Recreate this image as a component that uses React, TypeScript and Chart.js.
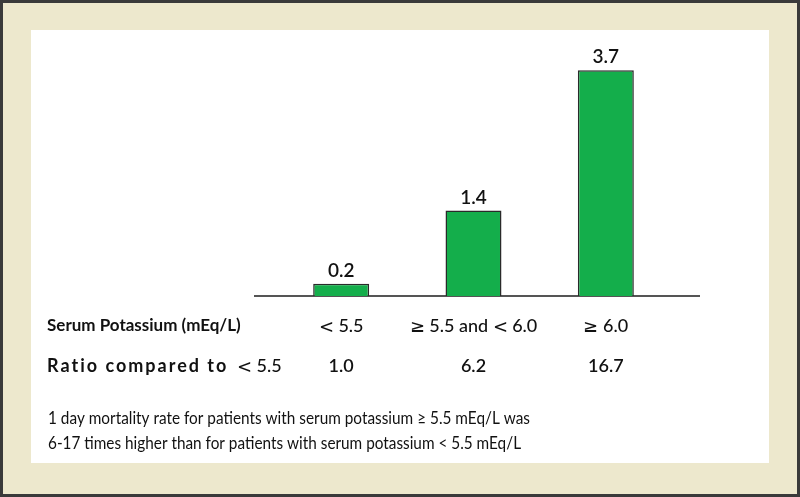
import { useEffect, useRef } from "react";
import { Chart, registerables } from "chart.js";

Chart.register(...registerables);

const categories = ["< 5.5", "≥ 5.5 and < 6.0", "≥ 6.0"];
const mortality = [0.2, 1.4, 3.7];
const ratios = ["1.0", "6.2", "16.7"];
const rowLabel1 = "Serum Potassium (mEq/L)";
const rowLabel2Bold = "Ratio compared to";
const rowLabel2Rest = "< 5.5";
const footnote = [
  "1 day mortality rate for patients with serum potassium ≥ 5.5 mEq/L was",
  "6-17 times higher than for patients with serum potassium < 5.5 mEq/L",
];

const MAIN_FONT = "Lato, 'Open Sans', sans-serif";
const SYM_FONT = "MathSym, Lato, 'Open Sans', sans-serif";
const FONT_FACE_CSS =
  "@font-face { font-family: 'MathSym'; src: local('DejaVu Sans'), local('DejaVuSans'); unicode-range: U+003C, U+2265; }";

const framePlugin = {
  id: "frame",
  beforeDraw(chart: any) {
    const { ctx, width, height } = chart;
    ctx.save();
    ctx.fillStyle = "#3a3a3a";
    ctx.fillRect(0, 0, width, height);
    ctx.fillStyle = "#ede8cd";
    ctx.fillRect(3, 3, width - 6, height - 6);
    ctx.fillStyle = "#ffffff";
    ctx.fillRect(31, 30, 738, 433);
    ctx.restore();
  },
  beforeDatasetsDraw(chart: any) {
    const { ctx, chartArea } = chart;
    ctx.save();
    ctx.strokeStyle = "#555555";
    ctx.lineWidth = 2;
    ctx.beginPath();
    ctx.moveTo(chartArea.left - 21, chartArea.bottom);
    ctx.lineTo(chartArea.right + 28, chartArea.bottom);
    ctx.stroke();
    ctx.restore();
  },
  afterDatasetsDraw(chart: any) {
    const { ctx } = chart;
    const meta = chart.getDatasetMeta(0);
    ctx.save();
    ctx.fillStyle = "#111111";
    ctx.font = `600 19px ${MAIN_FONT}`;
    ctx.textAlign = "center";
    ctx.textBaseline = "alphabetic";
    meta.data.forEach((bar: any, i: number) => {
      ctx.fillText(mortality[i].toFixed(1), bar.x, bar.y - 7);
    });

    // row labels
    ctx.textAlign = "left";
    ctx.textBaseline = "middle";
    const row1Y = 326;
    const row2Y = 366;
    ctx.font = `bold 17px ${MAIN_FONT}`;
    ctx.fillText(rowLabel1, 47, row1Y);
    ctx.font = `bold 18px ${MAIN_FONT}`;
    (ctx as any).letterSpacing = "2px";
    ctx.fillText(rowLabel2Bold, 47, row2Y);
    (ctx as any).letterSpacing = "0px";
    ctx.font = `500 18px ${SYM_FONT}`;
    ctx.fillText(rowLabel2Rest, 237, row2Y);

    // footnote
    ctx.textBaseline = "alphabetic";
    ctx.font = `18px ${MAIN_FONT}`;
    ctx.fillText(footnote[0], 48, 424, 482);
    ctx.fillText(footnote[1], 48, 449, 473);
    ctx.restore();
  },
};

export default function App() {
  const canvasRef = useRef<HTMLCanvasElement | null>(null);

  useEffect(() => {
    let chart: Chart | null = null;
    let cancelled = false;
    const build = () => {
      if (cancelled || !canvasRef.current) return;
      chart = new Chart(canvasRef.current, {
        type: "bar",
        data: {
          labels: categories,
          datasets: [
            {
              data: mortality,
              xAxisID: "x",
              backgroundColor: "#14ae4b",
              borderColor: "#2a2a2a",
              borderWidth: 1.5,
              categoryPercentage: 1,
              barPercentage: 0.423,
            },
          ],
        },
        options: {
          responsive: false,
          animation: false,
          devicePixelRatio: 1,
          layout: { padding: { left: 275, right: 128, top: 52, bottom: 0 } },
          plugins: { legend: { display: false }, tooltip: { enabled: false } },
          scales: {
            x: {
              type: "category",
              position: "bottom",
              weight: 0,
              grid: { display: false, drawTicks: false },
              border: { display: false },
              ticks: {
                autoSkip: false,
                maxRotation: 0,
                padding: 19,
                color: "#111111",
                font: { family: SYM_FONT, size: 18, weight: "500", lineHeight: 1.2 },
              },
              afterFit: (scale: any) => {
                scale.height = 44;
              },
            },
            x2: {
              type: "category",
              position: "bottom",
              weight: 1,
              labels: ratios,
              grid: { display: false, drawTicks: false },
              border: { display: false },
              ticks: {
                autoSkip: false,
                maxRotation: 0,
                padding: 15,
                color: "#111111",
                font: { family: MAIN_FONT, size: 18, weight: "600", lineHeight: 1.2 },
              },
              afterFit: (scale: any) => {
                scale.height = 157;
              },
            },
            y: { display: false, min: 0, max: 4 },
          },
        },
        plugins: [framePlugin],
      } as any);
    };
    const fontsApi = (document as any).fonts;
    if (fontsApi && fontsApi.load) {
      Promise.all([
        fontsApi.load("500 18px MathSym", "<≥"),
        fontsApi.load("500 18px Lato", "abc"),
        fontsApi.load("600 18px Lato", "abc"),
        fontsApi.load("bold 18px Lato", "abc"),
      ])
        .catch(() => null)
        .then(build);
    } else {
      build();
    }
    return () => {
      cancelled = true;
      if (chart) chart.destroy();
    };
  }, []);

  return (
    <div style={{ position: "fixed", left: 0, top: 0, width: 800, height: 497 }}>
      <style>{FONT_FACE_CSS}</style>
      <canvas ref={canvasRef} width={800} height={497} />
    </div>
  );
}
